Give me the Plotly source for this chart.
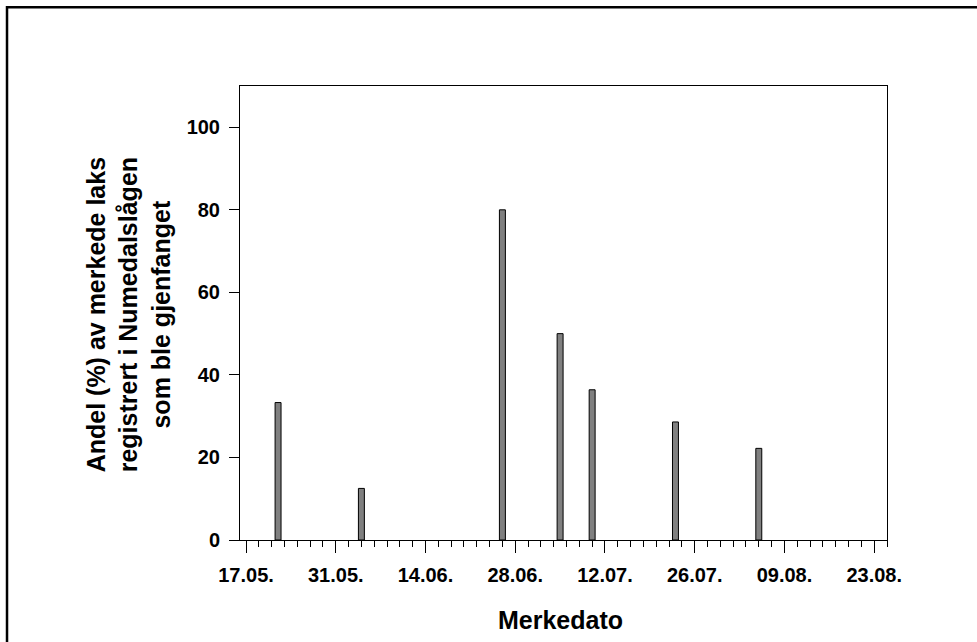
import plotly.graph_objects as go

# Data: marking dates (day.month) and share (%) recaptured
dates = ["2000-05-22", "2000-06-04", "2000-06-26", "2000-07-05", "2000-07-10", "2000-07-23", "2000-08-05"]
share = [33.3, 12.5, 80.0, 50.0, 36.4, 28.6, 22.2]

x_title = "Merkedato"
y_title = ["Andel (%) av merkede laks", "registrert i Numedalslågen", "som ble gjenfanget"]

DAY_MS = 86400000
FONT = "Arial, Liberation Sans, sans-serif"

fig = go.Figure()
fig.add_trace(go.Bar(
    x=dates, y=share, width=0.93 * DAY_MS,
    marker=dict(color="#808080", line=dict(color="#000000", width=1)),
))

fig.update_layout(
    width=977, height=642,
    margin=dict(l=240, r=90, t=86, b=102),
    paper_bgcolor="white", plot_bgcolor="white",
    showlegend=False,
    font=dict(family=FONT, size=20, color="black"),
)

fig.update_xaxes(
    type="date",
    range=["2000-05-16 01:30", "2000-08-25 00:00"],
    tick0="2000-05-17", dtick=14 * DAY_MS, tickformat="%d.%m.",
    ticks="outside", ticklen=12, tickwidth=1, tickcolor="black",
    minor=dict(ticks="outside", ticklen=6, tickwidth=1, tickcolor="black",
               tick0="2000-05-17", dtick=2 * DAY_MS, showgrid=False),
    showline=True, linecolor="black", linewidth=1, mirror=True,
    showgrid=False, zeroline=False,
    tickfont=dict(family=FONT, size=20, color="black", weight="bold"),
    ticklabelstandoff=5,
)

fig.update_yaxes(
    range=[0, 110], tick0=0, dtick=20,
    ticks="outside", ticklen=10, tickwidth=1, tickcolor="black",
    showline=True, linecolor="black", linewidth=1, mirror=True,
    showgrid=False, zeroline=False,
    tickfont=dict(family=FONT, size=20, color="black", weight="bold"),
    ticklabelstandoff=5,
)

fig.add_annotation(
    text="<b>" + "<br>".join(y_title) + "</b>",
    xref="paper", yref="paper", x=-0.173, y=0.495,
    xanchor="center", yanchor="middle", textangle=-90,
    showarrow=False, align="center",
    font=dict(family=FONT, size=25, color="black"),
)
fig.add_annotation(
    text="<b>" + x_title + "</b>",
    xref="paper", yref="paper", x=0.496, y=-0.176,
    xanchor="center", yanchor="middle",
    showarrow=False,
    font=dict(family=FONT, size=25, color="black"),
)

# Outer frame of the figure
fig.add_shape(type="rect", xref="paper", yref="paper",
              x0=-0.3601, y0=-0.25, x1=1.2, y1=1.1733,
              line=dict(color="black", width=2.5), fillcolor="rgba(0,0,0,0)")

fig.write_html("out.html")
